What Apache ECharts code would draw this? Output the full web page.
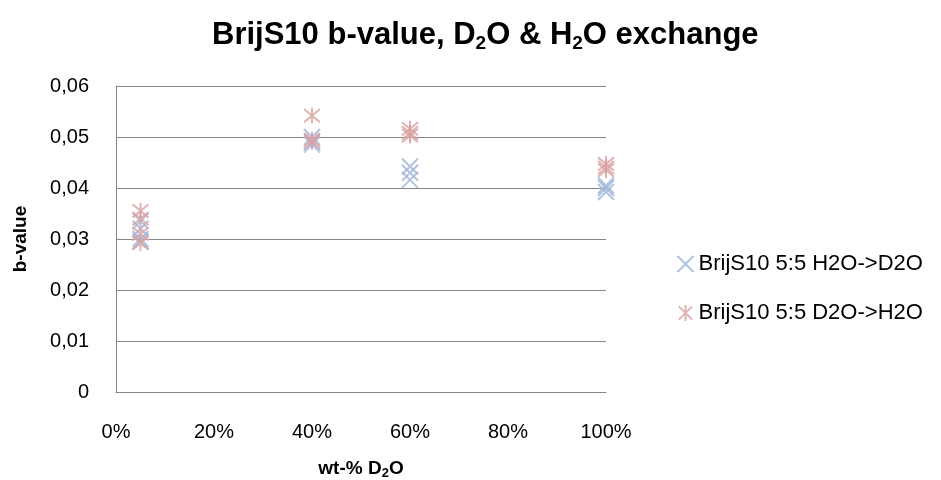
<!DOCTYPE html>
<html><head><meta charset="utf-8">
<script src="https://cdn.jsdelivr.net/npm/echarts@6/dist/echarts.min.js"></script>
<style>html,body{margin:0;padding:0;background:#fff}#c{width:941px;height:480px}</style>
</head><body><div id="c"></div>
<script>
// Data
const seriesNames = ['BrijS10 5:5 H2O->D2O', 'BrijS10 5:5 D2O->H2O'];
const xH2OtoD2O = [0.05, 0.05, 0.05, 0.05, 0.40, 0.40, 0.40, 0.60, 0.60, 0.60, 1.00, 1.00, 1.00];
const yH2OtoD2O = [0.0335, 0.032, 0.030, 0.0295, 0.0500, 0.0490, 0.0485, 0.0442, 0.0430, 0.0416, 0.0405, 0.0400, 0.0392];
const xD2OtoH2O = [0.05, 0.05, 0.05, 0.05, 0.40, 0.40, 0.40, 0.60, 0.60, 0.60, 1.00, 1.00, 1.00];
const yD2OtoH2O = [0.0355, 0.0340, 0.0310, 0.0292, 0.0542, 0.0495, 0.0490, 0.0516, 0.0508, 0.0503, 0.0447, 0.0440, 0.0435];
const xTicks = [0, 0.2, 0.4, 0.6, 0.8, 1.0];
const yTicks = [0, 0.01, 0.02, 0.03, 0.04, 0.05, 0.06];

const blue = '#9FB4DA', red = '#D9A0A0';
const xPath = 'path://M0,0L10,10M10,0L0,10';
const starPath = 'path://M0,0L10,10M10,0L0,10M5,-1L5,11';
const font = 'Liberation Sans, Arial, sans-serif';

const chart = echarts.init(document.getElementById('c'), null, {renderer: 'canvas'});
chart.setOption({
  animation: false,
  backgroundColor: '#fff',
  title: {
    text: 'BrijS10 b-value, D{s|2}O & H{s|2}O exchange',
    left: 207, top: 13,
    textStyle: {
      fontFamily: font, fontWeight: 'bold', fontSize: 31, color: '#000',
      rich: { s: { fontFamily: font, fontWeight: 'bold', fontSize: 19, padding: [16, 0, 0, 0], color: '#000' } }
    }
  },
  grid: { left: 116, right: 335, top: 86, bottom: 88, containLabel: false, outerBoundsMode: 'none' },
  legend: {
    orient: 'vertical', left: 670, top: 248, itemGap: 27,
    itemWidth: 16, itemHeight: 16,
    textStyle: { fontFamily: font, fontSize: 22, color: '#000' },
    data: seriesNames
  },
  xAxis: {
    type: 'value', min: xTicks[0], max: xTicks[xTicks.length - 1], interval: 0.2,
    name: 'wt-% D{s|2}O', nameLocation: 'middle', nameGap: 65,
    nameTextStyle: { fontFamily: font, fontWeight: 'bold', fontSize: 19, color: '#000',
      rich: { s: { fontFamily: font, fontWeight: 'bold', fontSize: 13, padding: [10, 0, 0, 0], color: '#000' } } },
    axisLine: { show: true, lineStyle: { color: '#868686', width: 1 } },
    axisTick: { show: false },
    splitLine: { show: false },
    axisLabel: { fontFamily: font, fontSize: 20, color: '#000', margin: 30,
      formatter: v => Math.round(v * 100) + '%' }
  },
  yAxis: {
    type: 'value', min: yTicks[0], max: yTicks[yTicks.length - 1], interval: 0.01,
    name: 'b-value', nameLocation: 'middle', nameGap: 86, nameRotate: 90,
    nameTextStyle: { fontFamily: font, fontWeight: 'bold', fontSize: 19, color: '#000' },
    axisLine: { show: true, lineStyle: { color: '#868686', width: 1 } },
    axisTick: { show: false },
    splitLine: { show: true, lineStyle: { color: '#868686', width: 1 } },
    axisLabel: { fontFamily: font, fontSize: 20, color: '#000', margin: 27,
      formatter: v => v === 0 ? '0' : v.toFixed(2).replace('.', ',') }
  },
  series: [
    {
      name: seriesNames[0], type: 'scatter', symbol: xPath, symbolSize: 16,
      itemStyle: { color: 'none', borderColor: blue, borderWidth: 2 },
      data: xH2OtoD2O.map((x, i) => [x, yH2OtoD2O[i]])
    },
    {
      name: seriesNames[1], type: 'scatter', symbol: starPath, symbolSize: 16,
      itemStyle: { color: 'none', borderColor: red, borderWidth: 2 },
      data: xD2OtoH2O.map((x, i) => [x, yD2OtoH2O[i]])
    }
  ]
});
</script></body></html>
